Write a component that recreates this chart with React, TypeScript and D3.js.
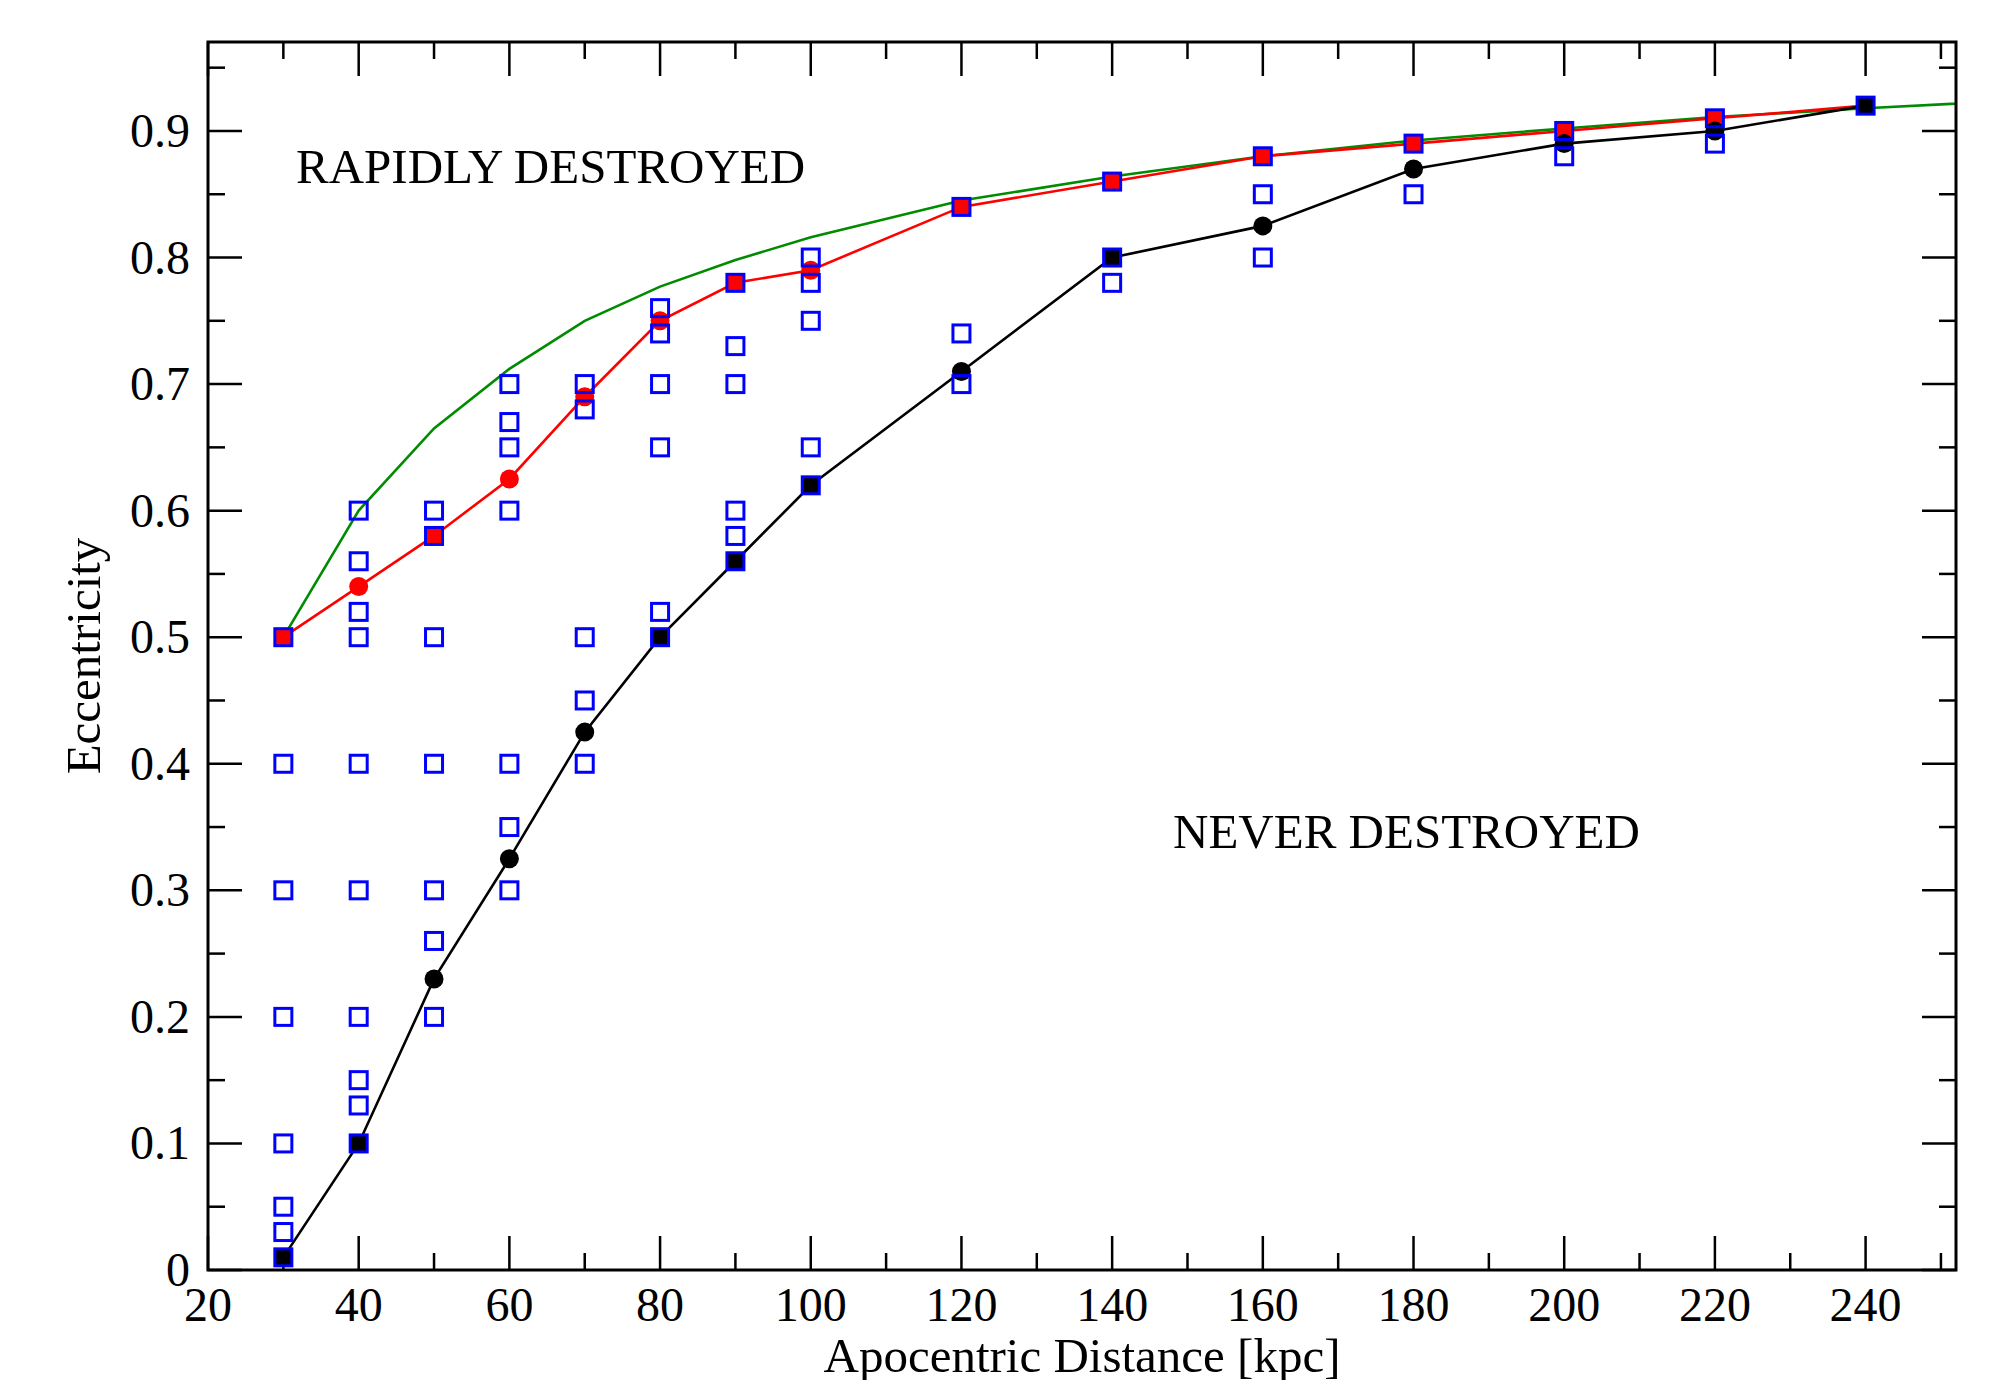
import React from "react";
import * as d3 from "d3";

// ---- Data ----
const xTicks = [20, 40, 60, 80, 100, 120, 140, 160, 180, 200, 220, 240];
const yTicks = [0, 0.1, 0.2, 0.3, 0.4, 0.5, 0.6, 0.7, 0.8, 0.9];

// blue open squares: [x, y]
const blueSquares: [number, number][] = [
  [30, 0.5], [30, 0.4], [30, 0.3], [30, 0.2], [30, 0.1], [30, 0.05], [30, 0.03], [30, 0.01],
  [40, 0.6], [40, 0.56], [40, 0.52], [40, 0.5], [40, 0.4], [40, 0.3], [40, 0.2], [40, 0.15], [40, 0.13], [40, 0.1],
  [50, 0.6], [50, 0.58], [50, 0.5], [50, 0.4], [50, 0.3], [50, 0.26], [50, 0.2],
  [60, 0.7], [60, 0.67], [60, 0.65], [60, 0.6], [60, 0.4], [60, 0.35], [60, 0.3],
  [70, 0.7], [70, 0.68], [70, 0.5], [70, 0.45], [70, 0.4],
  [80, 0.76], [80, 0.74], [80, 0.7], [80, 0.65], [80, 0.52], [80, 0.5],
  [90, 0.78], [90, 0.73], [90, 0.7], [90, 0.6], [90, 0.58], [90, 0.56],
  [100, 0.8], [100, 0.78], [100, 0.75], [100, 0.65], [100, 0.62],
  [120, 0.84], [120, 0.74], [120, 0.7],
  [140, 0.86], [140, 0.8], [140, 0.78],
  [160, 0.88], [160, 0.85], [160, 0.8],
  [180, 0.89], [180, 0.85],
  [200, 0.9], [200, 0.88],
  [220, 0.91], [220, 0.89],
  [240, 0.92],
];

// red boundary (upper): x, y, marker shape
const redX = [30, 40, 50, 60, 70, 80, 90, 100, 120, 140, 160, 180, 200, 220, 240];
const redY = [0.5, 0.54, 0.58, 0.625, 0.69, 0.75, 0.78, 0.79, 0.84, 0.86, 0.88, 0.89, 0.9, 0.91, 0.92];
const redShape = ["s", "c", "s", "c", "c", "c", "s", "c", "s", "s", "s", "s", "s", "s", "s"];

// black boundary (lower)
const blackX = [30, 40, 50, 60, 70, 80, 90, 100, 120, 140, 160, 180, 200, 220, 240];
const blackY = [0.01, 0.1, 0.23, 0.325, 0.425, 0.5, 0.56, 0.62, 0.71, 0.8, 0.825, 0.87, 0.89, 0.9, 0.92];
const blackShape = ["s", "s", "c", "c", "c", "s", "s", "s", "c", "s", "c", "c", "c", "c", "s"];

// green curve (no markers)
const greenX = [30, 40, 50, 60, 70, 80, 90, 100, 120, 140, 160, 180, 200, 220, 240, 260];
const greenY = [0.5, 0.6, 0.665, 0.712, 0.75, 0.777, 0.798, 0.816, 0.845, 0.864, 0.88, 0.8925, 0.902, 0.911, 0.918, 0.924];

const W = 2000, H = 1380;
const L = 208, R = 1956, T = 42, B = 1270;

export default function App() {
  const x = d3.scaleLinear().domain([20, 252]).range([L, R]);
  const y = d3.scaleLinear().domain([0, (B - T) / 1265.6]).range([B, T]);

  const line = d3.line<[number, number]>().x(d => x(d[0])).y(d => y(d[1]));
  const red = redX.map((v, i) => [v, redY[i]] as [number, number]);
  const black = blackX.map((v, i) => [v, blackY[i]] as [number, number]);
  const green = greenX.map((v, i) => [v, greenY[i]] as [number, number]);

  const xMinor = d3.range(20, 253, 10);
  const yMinor = d3.range(0, 0.97, 0.05);
  const font = "'Liberation Serif', 'Times New Roman', serif";
  const sq = 17;

  const marker = (px: number, py: number, shape: string, color: string, key: string) =>
    shape === "s" ? (
      <rect key={key} x={x(px) - sq / 2} y={y(py) - sq / 2} width={sq} height={sq} fill={color} />
    ) : (
      <circle key={key} cx={x(px)} cy={y(py)} r={9.5} fill={color} />
    );

  return (
    <svg width={W} height={H} style={{ position: "absolute", left: 0, top: 0, background: "#fff" }}>
      <rect x={0} y={0} width={W} height={H} fill="#fff" />
      <defs>
        <clipPath id="plotclip">
          <rect x={L} y={T} width={R - L} height={B - T} />
        </clipPath>
      </defs>

      {/* ticks */}
      <g stroke="#000" strokeWidth={2.5}>
        {xMinor.map(v => {
          const major = v % 20 === 0;
          const len = major ? 34 : 17;
          return (
            <g key={"xt" + v}>
              <line x1={x(v)} x2={x(v)} y1={B} y2={B - len} />
              <line x1={x(v)} x2={x(v)} y1={T} y2={T + len} />
            </g>
          );
        })}
        {yMinor.map((v, i) => {
          const major = i % 2 === 0;
          const len = major ? 34 : 17;
          return (
            <g key={"yt" + i}>
              <line x1={L} x2={L + len} y1={y(v)} y2={y(v)} />
              <line x1={R} x2={R - len} y1={y(v)} y2={y(v)} />
            </g>
          );
        })}
      </g>

      {/* data lines */}
      <g fill="none" strokeWidth={2.6} clipPath="url(#plotclip)">
        <path d={line(green) || ""} stroke="#008b00" />
        <path d={line(red) || ""} stroke="#ff0000" />
        <path d={line(black) || ""} stroke="#000000" />
      </g>

      {/* filled markers */}
      <g>
        {red.map((d, i) => marker(d[0], d[1], redShape[i], "#ff0000", "r" + i))}
        {black.map((d, i) => marker(d[0], d[1], blackShape[i], "#000000", "b" + i))}
      </g>

      {/* blue open squares */}
      <g fill="none" stroke="#0000ff" strokeWidth={3}>
        {blueSquares.map((d, i) => (
          <rect key={"q" + i} x={x(d[0]) - sq / 2} y={y(d[1]) - sq / 2} width={sq} height={sq} />
        ))}
      </g>

      {/* frame */}
      <rect x={L} y={T} width={R - L} height={B - T} fill="none" stroke="#000" strokeWidth={3} />

      {/* tick labels */}
      <g fontFamily={font} fontSize={48} fill="#000">
        {xTicks.map(v => (
          <text key={"xl" + v} x={x(v)} y={1321} textAnchor="middle">{v}</text>
        ))}
        {yTicks.map(v => (
          <text key={"yl" + v} x={190} y={y(v) + 16} textAnchor="end">{v === 0 ? "0" : v.toFixed(1)}</text>
        ))}
      </g>

      {/* axis titles */}
      <text x={(L + R) / 2} y={1372} textAnchor="middle" fontFamily={font} fontSize={49}>
        Apocentric Distance [kpc]
      </text>
      <text transform={`translate(100, ${(T + B) / 2}) rotate(-90)`} textAnchor="middle" fontFamily={font} fontSize={49}>
        Eccentricity
      </text>

      {/* annotations */}
      <text x={296} y={183} fontFamily={font} fontSize={49}>RAPIDLY DESTROYED</text>
      <text x={1173} y={848} fontFamily={font} fontSize={49}>NEVER DESTROYED</text>
    </svg>
  );
}
